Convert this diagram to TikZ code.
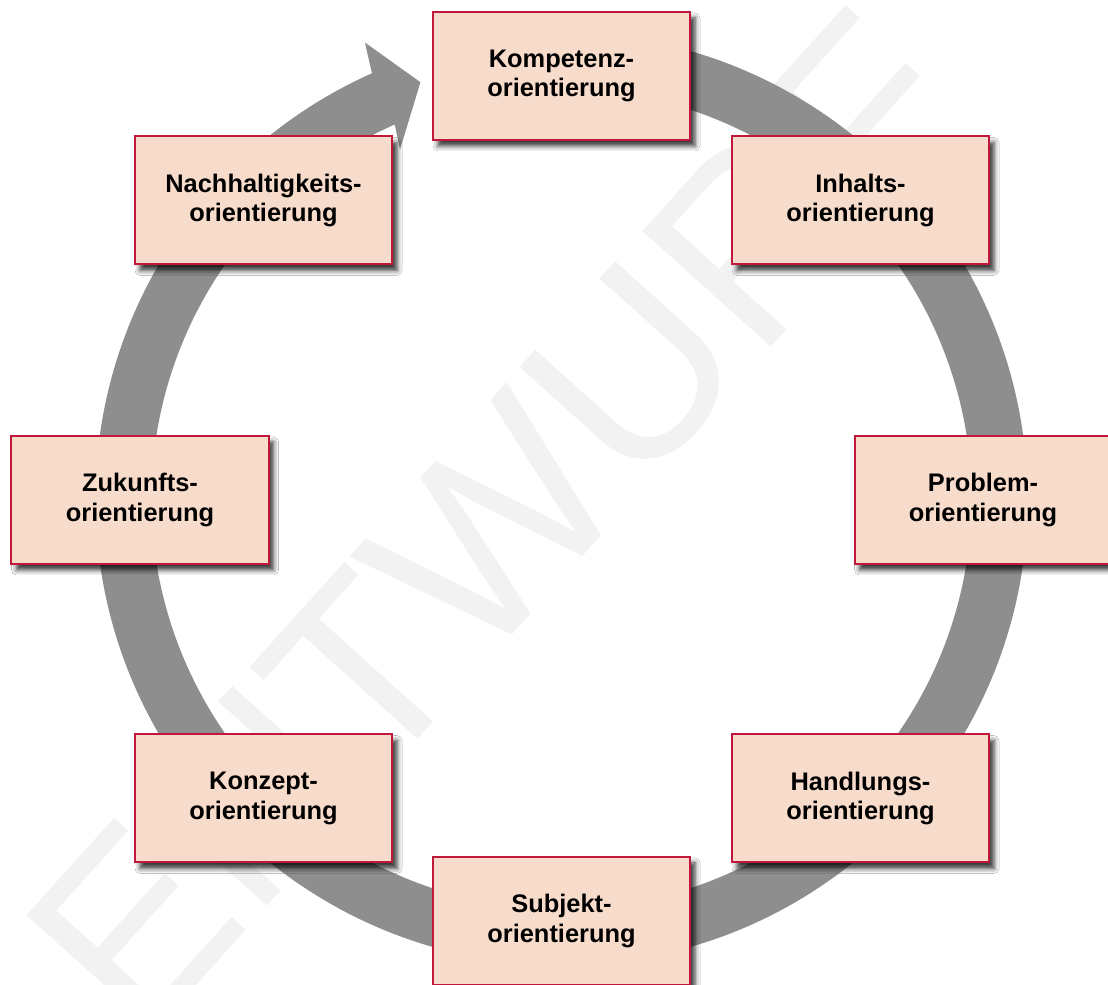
\documentclass[tikz,border=0pt]{standalone}
\usepackage{fontspec}
\setmainfont{Liberation Sans}
\usetikzlibrary{shadows.blur}
\definecolor{boxfill}{HTML}{F8DCCB}
\definecolor{boxline}{HTML}{C0183C}
\definecolor{ringgray}{HTML}{8E8E8E}
\definecolor{wmark}{HTML}{F2F2F2}
\tikzset{
  stage/.style={draw=boxline, line width=2bp, fill=boxfill,
    minimum width=257bp, minimum height=128bp, inner sep=0pt,
    align=center, font=\fontsize{25.5}{30}\selectfont\bfseries,
    blur shadow={shadow xshift=5bp, shadow yshift=-6bp, shadow blur radius=5bp, shadow opacity=80}},
  watermark/.style={text=wmark, font=\fontsize{252}{252}\selectfont, inner sep=0pt}
}
\begin{document}
\begin{tikzpicture}[x=1bp,y=1bp]
\useasboundingbox (0,0) rectangle (1108,985);
\clip (0,0) rectangle (1108,985);
\fill[white] (0,0) rectangle (1108,985);
% watermark
\node[watermark, rotate=48] (wm) at (498,462) {ENTWURF};
% ring with arrow head
\coordinate (C) at (561.5,486);
\begin{scope}[shift={(C)}]
\fill[ringgray] (95:466) arc[start angle=95, end angle=-246, radius=466bp]
  -- (-246.7:497) -- (-251.3:440) -- (-245.2:385) -- (-246:410)
  arc[start angle=-246, end angle=95, radius=410bp] -- cycle;
\end{scope}
% stages
\node[stage] (komp) at (561.5,909) {Kompetenz-\\orientierung};
\node[stage] (inh) at (860.5,784.5) {Inhalts-\\orientierung};
\node[stage] (prob) at (983,485) {Problem-\\orientierung};
\node[stage] (hand) at (860.5,186.5) {Handlungs-\\orientierung};
\node[stage] (subj) at (561.5,64) {Subjekt-\\orientierung};
\node[stage] (konz) at (263.5,186.5) {Konzept-\\orientierung};
\node[stage] (zuk) at (140,485) {Zukunfts-\\orientierung};
\node[stage] (nach) at (263.5,784.5) {Nachhaltigkeits-\\orientierung};
\end{tikzpicture}
\end{document}
